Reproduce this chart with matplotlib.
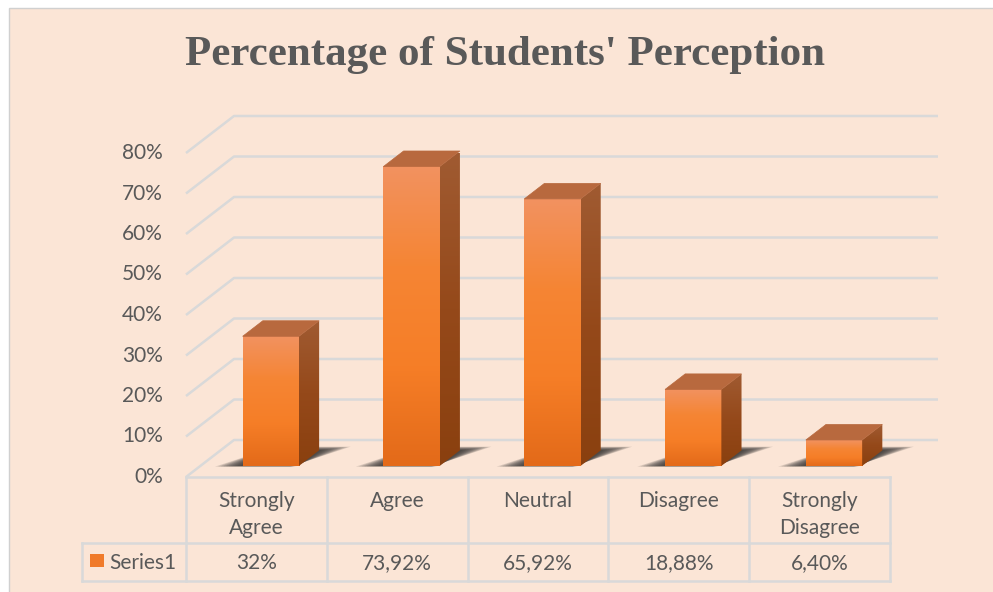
import numpy as np
import matplotlib.pyplot as plt
from matplotlib.patches import Polygon, Rectangle
from matplotlib.colors import LinearSegmentedColormap

# data
categories = ['Strongly\nAgree', 'Agree', 'Neutral', 'Disagree', 'Strongly\nDisagree']
values = [32, 73.92, 65.92, 18.88, 6.40]
value_labels = ['32%', '73,92%', '65,92%', '18,88%', '6,40%']
series_name = 'Series1'
yticks = [0, 10, 20, 30, 40, 50, 60, 70, 80]

bg = '#FBE5D6'
grid_c = '#D9D9D9'
text_c = '#595959'
plt.rcParams['font.family'] = ['Lato', 'DejaVu Sans']

W, H = 993, 592
fig = plt.figure(figsize=(W / 100, H / 100), dpi=100)
fig.patch.set_facecolor('white')
fig.patches.append(Rectangle((9 / W, -0.01), 1, 1.01 - 8 / H, transform=fig.transFigure,
                             facecolor=bg, edgecolor='#D0D0D0', lw=1, zorder=-5))

# front plane of the 3d box: x 186..890 px, y 477..153 px (0..80%)
ax = fig.add_axes([186 / W, (H - 477) / H, 704 / W, 324 / H])
ax.set_axis_off()
ax.patch.set_alpha(0)

px_x = 5 / 704     # category units per pixel
px_y = 80 / 324    # percent per pixel
KX = 48 * px_x     # depth offset (full depth) in data units
KY = 37 * px_y


def P(x, y, z):
    return x + z * KX, y + z * KY


# walls / gridlines
for v in yticks:
    a = P(-0.5, v, 0)
    b = P(-0.5, v, 1)
    c = P(4.5, v, 1)
    ax.plot([a[0], b[0], c[0]], [a[1], b[1], c[1]], color=grid_c, lw=1.8,
            clip_on=False, zorder=1, solid_capstyle='butt')

# y tick labels
for v in yticks:
    ax.text(-0.5 - 23 * px_x, v, f'{v}%', ha='right', va='center', fontsize=15,
            color=text_c, clip_on=False)

# bars
bw = 0.4
z0, z1 = 0.30, 0.72
front_cm = LinearSegmentedColormap.from_list('front', ['#F29260', '#F58534', '#F67E27', '#E36A19'])
side_cm = LinearSegmentedColormap.from_list('side', ['#A05B32', '#95491A', '#8A400F'])
grad = np.linspace(0, 1, 256).reshape(-1, 1)

for i, v in enumerate(values):
    xl, xr = i - bw / 2, i + bw / 2
    # soft shadow on the floor
    for k in range(10):
        e = 0.19 * (1 - k / 10)
        ez = 0.10 * (1 - k / 10)
        pts = [P(xl - e, 0, z0 - ez * 0.2), P(xr - e * 0.3, 0, z0 - ez * 0.2),
               P(xr + e, 0, z1 + ez), P(xl + e * 0.3, 0, z1 + ez)]
        ax.add_patch(Polygon(pts, closed=True, facecolor='#222222', edgecolor='none',
                             alpha=0.14, zorder=2, clip_on=False))
    # front face with gradient
    fl = P(xl, 0, z0)
    fr = P(xr, v, z0)
    ax.imshow(grad, cmap=front_cm, extent=[fl[0], fr[0], fl[1], fr[1]], aspect='auto',
              interpolation='bilinear', zorder=4, clip_on=False)
    # side face
    side = [P(xr, 0, z0), P(xr, v, z0), P(xr, v, z1), P(xr, 0, z1)]
    side_patch = Polygon(side, closed=True, facecolor='none', edgecolor='none')
    ax.add_patch(side_patch)
    sx = [p[0] for p in side]
    sy = [p[1] for p in side]
    im = ax.imshow(grad, cmap=side_cm, extent=[min(sx), max(sx), min(sy), max(sy)],
                   aspect='auto', interpolation='bilinear', zorder=4)
    im.set_clip_path(side_patch)
    # top face
    top = [P(xl, v, z0), P(xr, v, z0), P(xr, v, z1), P(xl, v, z1)]
    ax.add_patch(Polygon(top, closed=True, facecolor='#B8693E', edgecolor='#B8693E',
                         lw=0.5, zorder=5, clip_on=False))

ax.set_xlim(-0.5, 4.5)
ax.set_ylim(0, 80)

# data table
row1 = -66 * px_y
row2 = -104 * px_y
leg_left = -0.5 - 104 * px_x
tk = dict(color=grid_c, lw=1.8, clip_on=False, zorder=1, solid_capstyle='projecting')
ax.plot([-0.5, 4.5], [0, 0], **tk)
ax.plot([leg_left, 4.5], [row1, row1], **tk)
ax.plot([leg_left, 4.5], [row2, row2], **tk)
ax.plot([leg_left, leg_left], [row1, row2], **tk)
for j in range(6):
    ax.plot([j - 0.5, j - 0.5], [0, row2], **tk)

for i, (c, lab) in enumerate(zip(categories, value_labels)):
    ax.text(i, -14 * px_y, c, ha='center', va='top', fontsize=15, color=text_c,
            linespacing=1.45, clip_on=False)
    ax.text(i, -86 * px_y, lab, ha='center', va='center', fontsize=15, color=text_c,
            clip_on=False)

ax.add_patch(Rectangle((-0.5 - 96 * px_x, -90 * px_y), 14 * px_x, 13 * px_y,
                       facecolor='#F07A2A', edgecolor='none', clip_on=False))
ax.text(-0.5 - 77 * px_x, -86 * px_y, series_name, ha='left', va='center', fontsize=15,
        color=text_c, clip_on=False)

fig.text(505 / W, 1 - 55 / H, "Percentage of Students' Perception", ha='center', va='center',
         fontsize=31, fontweight='bold', family='Liberation Serif', color=text_c)

fig.savefig('out.png', dpi=100, facecolor=fig.get_facecolor())
